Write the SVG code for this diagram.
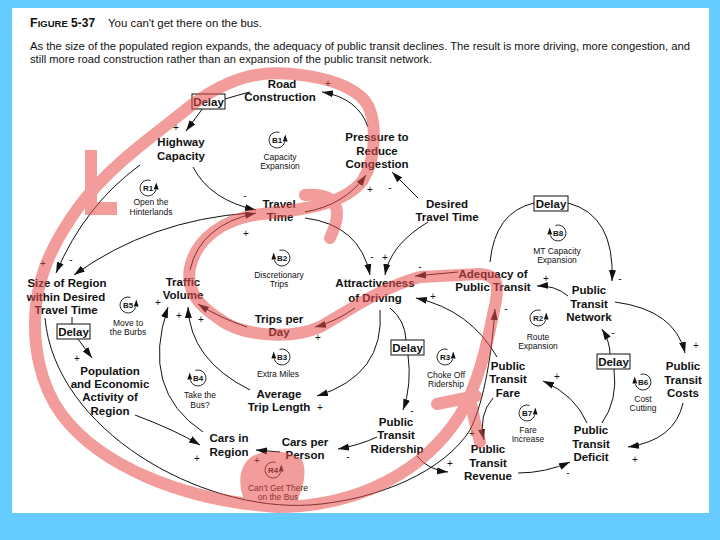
<svg xmlns="http://www.w3.org/2000/svg" width="720" height="540" viewBox="0 0 720 540">
<defs>
<style>
text{font-family:"Liberation Sans",Arial,sans-serif;fill:#111}
.n{font-size:11.5px;font-weight:bold;text-anchor:middle}
.s{font-size:8.5px;text-anchor:middle}
.p{font-size:10px;text-anchor:middle}
.id{font-size:8px;font-weight:bold;text-anchor:middle}
.cap{font-size:11px}
.c{fill:none;stroke:#111;stroke-width:1}
.a{marker-end:url(#ah)}
.box{fill:#fff;stroke:#111;stroke-width:1}
.red{fill:none;stroke:#e84c4c;stroke-width:12;stroke-linecap:round;stroke-linejoin:round}
</style>
<marker id="ah" markerUnits="userSpaceOnUse" markerWidth="12" markerHeight="8" refX="11" refY="4" orient="auto">
<path d="M0,0.5 L11,4 L0,7.5 Z" fill="#111"/>
</marker>
<g id="loopR">
<path d="M2.5,-7.6 A8 8 0 1 0 7.7,2.2" fill="none" stroke="#111" stroke-width="0.9"/>
<polygon points="8.3,-5.5 5.8,1.5 10.6,1.5" fill="#111"/>
</g>
<g id="loopL" transform="scale(-1,1)">
<use href="#loopR"/>
</g>
</defs>
<rect width="720" height="540" fill="#66ccff"/>
<rect x="12" y="8" width="697" height="505" fill="#fff"/>

<g id="caption">
<text x="30" y="27"><tspan style="font-size:12.5px;font-weight:bold">F</tspan><tspan style="font-size:9.5px;font-weight:bold">IGURE</tspan><tspan style="font-size:12px;font-weight:bold"> 5-37</tspan></text>
<text class="cap" x="108" y="27" textLength="154" lengthAdjust="spacingAndGlyphs">You can't get there on the bus.</text>
<text class="cap" x="30" y="50" textLength="660" lengthAdjust="spacingAndGlyphs">As the size of the populated region expands, the adequacy of public transit declines. The result is more driving, more congestion, and</text>
<text class="cap" x="30" y="63" textLength="402" lengthAdjust="spacingAndGlyphs">still more road construction rather than an expansion of the public transit network.</text>
</g>

<g id="connectors">
<path class="c" d="M250,92 Q238,95 225,99"/>
<path class="c a" d="M203,108 L186,131"/>
<path class="c a" d="M368,127 Q358,98 322,92"/>
<path class="c a" d="M193,167 Q210,200 256,210"/>
<path class="c a" d="M250,213 Q150,220 74,275"/>
<path class="c a" d="M140,165 Q85,205 56,273"/>
<path class="c a" d="M190,270 Q200,225 256,213"/>
<path class="c a" d="M305,212 Q345,205 366,175"/>
<path class="c a" d="M418,198 Q405,185 392,172"/>
<path class="c a" d="M305,218 Q360,225 370,275"/>
<path class="c a" d="M428,222 Q390,245 385,275"/>
<path class="c a" d="M458,272 L415,276"/>
<path class="c a" d="M568,296 Q555,285 537,286"/>
<path class="c" d="M490,262 Q495,212 534,203"/>
<path class="c a" d="M568,203 Q615,215 612,281"/>
<path class="c a" d="M355,308 Q335,322 315,327"/>
<path class="c a" d="M247,327 Q220,318 198,304"/>
<path class="c a" d="M250,390 Q190,360 188,307"/>
<path class="c a" d="M203,432 Q140,390 168,307"/>
<path class="c a" d="M380,310 Q385,375 317,396"/>
<path class="c" d="M72,317 L72,324"/>
<path class="c a" d="M78,339 L92,358"/>
<path class="c a" d="M45,318 C55,430 200,512 310,505 C380,500 445,470 470,430 C485,400 492,350 495,309"/>
<path class="c a" d="M135,415 Q175,430 200,445"/>
<path class="c a" d="M280,452 L256,450"/>
<path class="c a" d="M377,437 Q360,445 338,449"/>
<path class="c" d="M390,308 Q405,320 406,340"/>
<path class="c a" d="M408,355 Q412,385 403,410"/>
<path class="c a" d="M417,456 Q428,470 448,472"/>
<path class="c a" d="M497,357 Q470,310 416,298"/>
<path class="c a" d="M493,398 Q478,415 484,440"/>
<path class="c a" d="M518,473 Q545,473 570,462"/>
<path class="c a" d="M587,423 Q575,395 543,381"/>
<path class="c" d="M602,423 Q618,400 614,369"/>
<path class="c a" d="M610,354 Q610,342 602,329"/>
<path class="c a" d="M615,302 Q675,310 685,353"/>
<path class="c a" d="M683,403 Q675,440 628,447"/>
</g>

<g id="polarities">
<text class="p" x="176" y="131">+</text>
<text class="p" x="328" y="87">+</text>
<text class="p" x="245" y="199">-</text>
<text class="p" x="246" y="237">+</text>
<text class="p" x="71" y="263">-</text>
<text class="p" x="43" y="267">+</text>
<text class="p" x="370" y="193">+</text>
<text class="p" x="390" y="191">-</text>
<text class="p" x="372" y="260">-</text>
<text class="p" x="385" y="261">+</text>
<text class="p" x="420" y="270">-</text>
<text class="p" x="433" y="300">+</text>
<text class="p" x="546" y="282">+</text>
<text class="p" x="506" y="312">-</text>
<text class="p" x="620" y="282">-</text>
<text class="p" x="613" y="336">-</text>
<text class="p" x="696" y="349">+</text>
<text class="p" x="318" y="341">+</text>
<text class="p" x="201" y="323">+</text>
<text class="p" x="179" y="319">+</text>
<text class="p" x="158" y="306">+</text>
<text class="p" x="320" y="411">+</text>
<text class="p" x="77" y="362">+</text>
<text class="p" x="197" y="462">+</text>
<text class="p" x="257" y="464">+</text>
<text class="p" x="348" y="460">-</text>
<text class="p" x="412" y="414">-</text>
<text class="p" x="450" y="467">+</text>
<text class="p" x="472" y="437">+</text>
<text class="p" x="568" y="476">-</text>
<text class="p" x="557" y="380">+</text>
<text class="p" x="635" y="463">+</text>
</g>

<g id="delay1"><rect class="box" x="192" y="94" width="33" height="15"/><text class="n" x="208.5" y="105.5">Delay</text></g>
<g id="delay2"><rect class="box" x="534" y="196" width="34" height="15"/><text class="n" x="551" y="207.5">Delay</text></g>
<g id="delay3"><rect class="box" x="57" y="324" width="33" height="15"/><text class="n" x="73.5" y="335.5">Delay</text></g>
<g id="delay4"><rect class="box" x="391" y="340" width="33" height="15"/><text class="n" x="407.5" y="351.5">Delay</text></g>
<g id="delay5"><rect class="box" x="597" y="354" width="33" height="15"/><text class="n" x="613.5" y="365.5">Delay</text></g>

<g id="road-construction"><text class="n" x="282" y="88">Road</text><text class="n" x="280" y="101">Construction</text></g>
<g id="highway-capacity"><text class="n" x="181" y="146">Highway</text><text class="n" x="181" y="160">Capacity</text></g>
<g id="pressure"><text class="n" x="377" y="141">Pressure to</text><text class="n" x="377" y="155">Reduce</text><text class="n" x="377" y="168">Congestion</text></g>
<g id="travel-time"><text class="n" x="279" y="208">Travel</text><text class="n" x="280" y="221">Time</text></g>
<g id="desired-travel-time"><text class="n" x="447" y="208">Desired</text><text class="n" x="447" y="221">Travel Time</text></g>
<g id="traffic-volume"><text class="n" x="183" y="286">Traffic</text><text class="n" x="183" y="299">Volume</text></g>
<g id="size-of-region"><text class="n" x="67" y="287">Size of Region</text><text class="n" x="66" y="301">within Desired</text><text class="n" x="66" y="314">Travel Time</text></g>
<g id="population"><text class="n" x="110" y="375">Population</text><text class="n" x="110" y="388">and Economic</text><text class="n" x="110" y="401">Activity of</text><text class="n" x="110" y="415">Region</text></g>
<g id="attractiveness"><text class="n" x="375" y="287">Attractiveness</text><text class="n" x="375" y="302">of Driving</text></g>
<g id="trips-per-day"><text class="n" x="279" y="323">Trips per</text><text class="n" x="279" y="336">Day</text></g>
<g id="average-trip-length"><text class="n" x="279" y="398">Average</text><text class="n" x="279" y="411">Trip Length</text></g>
<g id="adequacy"><text class="n" x="493" y="278">Adequacy of</text><text class="n" x="493" y="291">Public Transit</text></g>
<g id="pt-network"><text class="n" x="589" y="294">Public</text><text class="n" x="589" y="308">Transit</text><text class="n" x="589" y="321">Network</text></g>
<g id="pt-fare"><text class="n" x="508" y="370">Public</text><text class="n" x="508" y="383">Transit</text><text class="n" x="508" y="397">Fare</text></g>
<g id="pt-costs"><text class="n" x="683" y="370">Public</text><text class="n" x="683" y="384">Transit</text><text class="n" x="683" y="397">Costs</text></g>
<g id="pt-ridership"><text class="n" x="396" y="426">Public</text><text class="n" x="396" y="439">Transit</text><text class="n" x="397" y="453">Ridership</text></g>
<g id="pt-deficit"><text class="n" x="591" y="434">Public</text><text class="n" x="591" y="448">Transit</text><text class="n" x="591" y="461">Deficit</text></g>
<g id="pt-revenue"><text class="n" x="488" y="453">Public</text><text class="n" x="488" y="467">Transit</text><text class="n" x="488" y="480">Revenue</text></g>
<g id="cars-in-region"><text class="n" x="229" y="442">Cars in</text><text class="n" x="229" y="456">Region</text></g>
<g id="cars-per-person"><text class="n" x="305" y="446">Cars per</text><text class="n" x="305" y="459">Person</text></g>

<g id="loops">
<g transform="translate(277,140)"><use href="#loopR"/><text class="id" y="3">B1</text></g>
<text class="s" x="280" y="160">Capacity</text><text class="s" x="280" y="169">Expansion</text>
<g transform="translate(148,188)"><use href="#loopR"/><text class="id" y="3">R1</text></g>
<text class="s" x="151" y="205">Open the</text><text class="s" x="151" y="215">Hinterlands</text>
<g transform="translate(282,258)"><use href="#loopL"/><text class="id" y="3">B2</text></g>
<text class="s" x="279" y="278">Discretionary</text><text class="s" x="279" y="287">Trips</text>
<g transform="translate(558,233)"><use href="#loopL"/><text class="id" y="3">B8</text></g>
<text class="s" x="557" y="254">MT Capacity</text><text class="s" x="557" y="263">Expansion</text>
<g transform="translate(128,305)"><use href="#loopR"/><text class="id" y="3">B5</text></g>
<text class="s" x="128" y="326">Move to</text><text class="s" x="128" y="335">the Burbs</text>
<g transform="translate(538,318)"><use href="#loopR"/><text class="id" y="3">R2</text></g>
<text class="s" x="538" y="340">Route</text><text class="s" x="538" y="349">Expansion</text>
<g transform="translate(282,357)"><use href="#loopL"/><text class="id" y="3">B3</text></g>
<text class="s" x="278" y="377">Extra Miles</text>
<g transform="translate(445,357)"><use href="#loopR"/><text class="id" y="3">R3</text></g>
<text class="s" x="446" y="378">Choke Off</text><text class="s" x="446" y="387">Ridership</text>
<g transform="translate(198,378)"><use href="#loopL"/><text class="id" y="3">B4</text></g>
<text class="s" x="200" y="398">Take the</text><text class="s" x="200" y="407.5">Bus?</text>
<g transform="translate(527,413)"><use href="#loopR"/><text class="id" y="3">B7</text></g>
<text class="s" x="528" y="432.5">Fare</text><text class="s" x="528" y="442">Increase</text>
<g transform="translate(643,382)"><use href="#loopL"/><text class="id" y="3">B6</text></g>
<text class="s" x="643" y="401.5">Cost</text><text class="s" x="643" y="411">Cutting</text>
<g transform="translate(273,470)"><use href="#loopR"/><text class="id" y="3">R4</text></g>
<text class="s" x="278" y="491">Can't Get There</text><text class="s" x="278" y="500">on the Bus</text>
</g>

<g id="red-overlay" opacity="0.55">
<path class="red" d="M363,180 C378,155 378,110 360,96 C335,75 275,68 243,78 C220,85 200,98 183,112 C155,135 110,165 78,208 C55,240 40,270 36,305 C32,345 40,385 62,415 C100,465 180,500 277,507 C360,507 425,470 460,415 C478,385 487,345 494,310 C500,285 498,275 480,274 L420,277 C380,288 350,310 320,327 C290,340 240,336 218,318 C198,305 186,290 190,268 C196,238 225,218 262,214 C300,210 345,205 363,180 Z"/>
<path class="red" d="M305,195 Q352,192 330,238"/>
<path class="red" d="M437,404 L476,396"/>
<path class="red" d="M470,398 Q474,420 480,442"/>
<path d="M250,458 C262,448 292,450 302,460 C308,472 302,492 296,502 L245,502 C238,486 238,468 250,458 Z" fill="#e84c4c"/>
<rect x="85" y="150" width="12" height="60" fill="#e84c4c"/>
<rect x="85" y="202" width="32" height="13" fill="#e84c4c"/>
</g>
</svg>
